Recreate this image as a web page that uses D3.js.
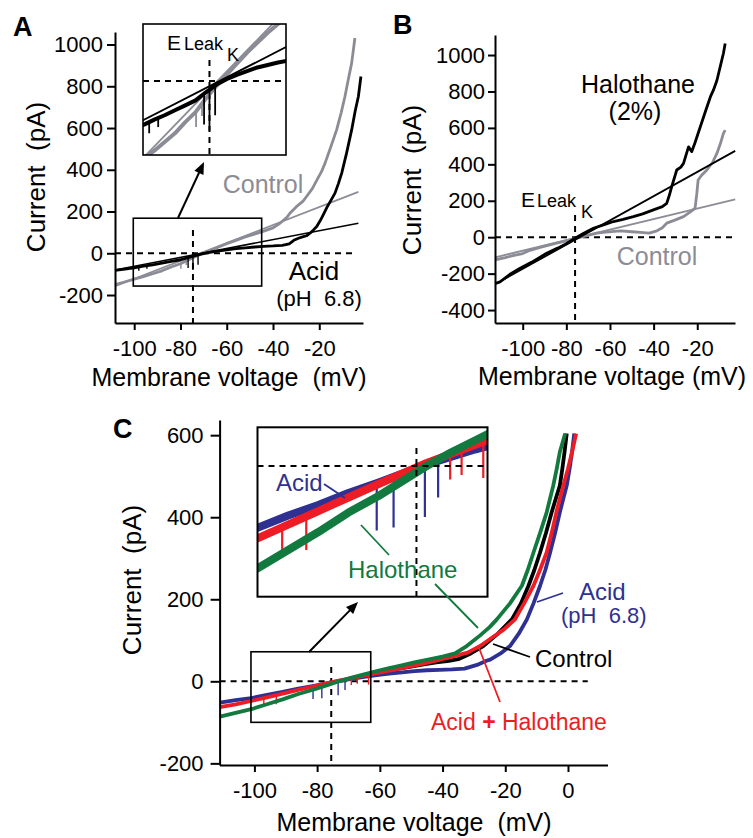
<!DOCTYPE html>
<html><head><meta charset="utf-8">
<script src="https://cdn.jsdelivr.net/npm/d3@7"></script>
<style>
body{margin:0;background:#fff}
svg{display:block}
text{font-family:'Liberation Sans',Arial,Helvetica,sans-serif}
</style>
</head><body>
<svg id="fig" width="753" height="838"></svg>
<script>
// ---------------- DATA ----------------
// Panel A (membrane voltage mV, current pA)
const aTicksX = [-100, -80, -60, -40, -20];
const aTicksY = [-200, 0, 200, 400, 600, 800, 1000];
const aControl = [[-108.3,-150],[-105,-140],[-100,-124],[-96,-112],[-92,-98],[-88,-84],[-84,-66],[-80,-50],[-76,-28],[-72,-8],[-68,10],[-64,28],[-60,46],[-56,62],[-52,78],[-48,92],[-44,106],[-40,122],[-37,144],[-34,172],[-32.7,192],[-30,222],[-27,250],[-25.5,272],[-23,310],[-21,352],[-19,392],[-17.5,432],[-15,510],[-12.5,591],[-10.5,675],[-8.9,751],[-7.5,830],[-6,911],[-4.6,1031]];
const aAcid = [[-108.3,-82],[-104,-76],[-100,-70],[-96,-62],[-92,-55],[-88,-47],[-84,-39],[-80,-31],[-76,-18],[-72,-6],[-68,3],[-64,10],[-60,16],[-56,22],[-52,26],[-48,30],[-44,33],[-40,35],[-36,38],[-33,45],[-31,62],[-29,72],[-26.9,80],[-25.5,84],[-24,96],[-22.5,112],[-21.1,128],[-19.5,158],[-18.3,184],[-16.8,218],[-15.4,245],[-13.2,288],[-11.7,335],[-10.3,384],[-8.2,480],[-6,591],[-4.5,680],[-3.1,751],[-2,847]];
// noise spikes: [voltage, trace value, spike tip]
const aAcidSpikes = [[-98,-67,-84],[-94.5,-60,-74],[-76.7,-22,-70],[-74.6,-14,-80],[-72.4,-7,-55]];
const aControlSpikes = [[-79.8,-50,-74],[-77.5,-36,-56]];
const aFitControl = [[-108.3,-158],[-3.1,294]];
const aFitAcid = [[-108.3,-80],[-3.1,144]];
const aZoomV = [-100.4, -44.9];
const aZoomI = [-157, 168];
const aEleak = -74.6;

// Panel B
const bTicksX = [-100, -80, -60, -40, -20];
const bTicksY = [-400, -200, 0, 200, 400, 600, 800, 1000];
const bHalothane = [[-112.7,-255],[-110.4,-245],[-106,-205],[-101.2,-170],[-96,-138],[-89,-88],[-84,-60],[-80,-36],[-76,-5],[-72,22],[-67.6,49],[-63,68],[-58.4,86],[-54,98],[-49.3,113],[-45,128],[-40.1,150],[-36,168],[-34,186],[-32.8,230],[-31.7,277],[-29.4,369],[-27.5,385],[-26.3,405],[-24,496],[-22.5,470],[-21,520],[-18.6,606],[-16,700],[-14,770],[-12.6,807],[-11,860],[-9.5,935],[-8,1010],[-7.2,1063]];
const bControl = [[-112.7,-124],[-108,-112],[-104,-100],[-100,-90],[-96.7,-72],[-92,-56],[-88,-44],[-84.4,-33],[-80,-20],[-75.2,-5],[-70,10],[-66,22],[-62,28],[-58,32],[-55,35],[-50,30],[-46,26],[-42,22],[-38.5,35],[-36,52],[-34,77],[-30,95],[-26.3,113],[-23,140],[-21,160],[-20.2,240],[-19.6,314],[-18,340],[-15.6,369],[-13,410],[-11,460],[-9.5,510],[-8,570],[-7.2,588]];
const bFitHalothane = [[-110.4,-243],[-2.6,474]];
const bFitControl = [[-112.7,-111],[-2.6,208]];
const bEleak = -76;

// Panel C
const cTicksX = [-100, -80, -60, -40, -20, 0];
const cTicksY = [-200, 0, 200, 400, 600];
const cAcid = [[-111,-52],[-106,-46],[-101,-41],[-96,-33],[-91,-26],[-86,-18],[-81,-11],[-77,-5],[-73,1],[-69,6],[-65,11],[-61,15],[-57,19],[-53,22],[-49,25],[-45,27],[-41,28],[-37,29],[-33,31],[-29,40],[-26,50],[-24.8,53],[-21.5,68],[-18.5,86],[-15.7,116],[-13.1,151],[-11,190],[-8.9,233],[-7.2,272],[-5.7,314],[-4.1,362],[-2.6,412],[-1.5,445],[-0.4,477],[0.5,518],[1.3,559],[2,604]];
const cAcidHalothane = [[-111,-63],[-106,-56],[-101,-48],[-96,-39],[-91,-30],[-86,-21],[-81,-12],[-77,-5],[-73,2],[-69,8],[-65,14],[-61,20],[-57,26],[-53,32],[-49,38],[-45,45],[-40.8,53],[-36,62],[-32,70],[-28,86],[-24.5,105],[-20.5,126],[-16.9,151],[-14,190],[-11,233],[-9,270],[-6.8,314],[-5.2,362],[-3.7,412],[-2.6,445],[-1.5,477],[0,518],[1.3,559],[2.6,604]];
const cHalothane = [[-111,-86],[-106,-77],[-101,-68],[-96,-56],[-91,-44],[-86,-31],[-81,-20],[-77,-10],[-73,0],[-69,9],[-65,17],[-61,25],[-57,32],[-53,39],[-49,46],[-45,52],[-40,60],[-36,68],[-32.3,86],[-28,112],[-25,132],[-22.7,151],[-18.5,190],[-14.7,233],[-12.8,272],[-11,314],[-8.9,362],[-6.8,412],[-4.7,477],[-3.6,518],[-2.6,559],[-0.9,604]];
const cControl = [[-58,26],[-54,31],[-50,36],[-46,41],[-42,46],[-38,50],[-35,54],[-31,68],[-27,86],[-22.5,115],[-17.9,151],[-15,190],[-12.6,233],[-10.7,272],[-8.9,314],[-7,362],[-5.2,412],[-3.9,445],[-2.6,477],[-1.8,518],[-1.1,559],[-0.4,604]];
// noise spikes: [voltage, trace value, spike tip]
const cAcidSpikes = [[-81.3,-11,-43],[-78.5,-7,-41],[-73.3,0,-34],[-71.1,3,-21]];
const cAcidHalothaneSpikes = [[-97,-41,-58],[-93,-33,-56],[-69.1,8,-9],[-67.2,10,-6],[-63.6,16,-8]];
const cZoomV = [-101.1, -62.9];
const cZoomI = [-100, 72];
const cEleak = -75.5;

// ---------------- STYLE ----------------
const GRAY = '#8c8c96', BLUE = '#2e3192', RED = '#ee1c25', GREEN = '#127a3e';
const svg = d3.select('#fig');

// ---------------- SCALES ----------------
const xA = d3.scaleLinear().domain([-108.3, -1.1]).range([115, 363]);
const yA = d3.scaleLinear().domain([-334, 1060]).range([323, 32]);
const xAi = d3.scaleLinear().domain(aZoomV).range([143, 286]);
const yAi = d3.scaleLinear().domain([-119, 92]).range([155, 24]);

const xB = d3.scaleLinear().domain([-112.7, -2.7]).range([495, 735]);
const yB = d3.scaleLinear().domain([-471, 1110]).range([323, 35]);

const xC = d3.scaleLinear().domain([-111.1, 12.6]).range([219.6, 607.5]);
const yC = d3.scaleLinear().domain([-204, 637]).range([765, 420]);
const xCi = d3.scaleLinear().domain(cZoomV).range([257.5, 487.5]);
const yCi = d3.scaleLinear().domain([-87.1, 25.8]).range([596.7, 427.3]);

const fmt = d => String(d);

function drawAxes(x, y, xt, yt, o) {
  const gx = svg.append('g').attr('transform', `translate(0,${y.range()[0]})`)
    .call(d3.axisBottom(x).tickValues(xt).tickFormat(fmt).tickSize(7).tickSizeOuter(0).tickPadding(o.xpad));
  const gy = svg.append('g').attr('transform', `translate(${x.range()[0]},0)`)
    .call(d3.axisLeft(y).tickValues(yt).tickFormat(fmt).tickSize(o.ytick).tickSizeOuter(0).tickPadding(o.ypad));
  [gx, gy].forEach(g => {
    g.select('.domain').attr('stroke', '#000').attr('stroke-width', 2);
    g.selectAll('.tick line').attr('stroke', '#000').attr('stroke-width', 2);
    g.selectAll('.tick text').attr('font-size', 22).attr('fill', '#000')
      .style('font-family', "'Liberation Sans',Arial,sans-serif");
  });
}

function line(x, y) { return d3.line().x(d => x(d[0])).y(d => y(d[1])); }
function path(g, data, x, y, color, w) {
  return g.append('path').datum(data).attr('d', line(x, y)).attr('fill', 'none')
    .attr('stroke', color).attr('stroke-width', w).attr('stroke-linejoin', 'round');
}
function spikes(g, data, x, y, color, w) {
  g.selectAll(null).data(data).enter().append('line')
    .attr('x1', d => x(d[0])).attr('x2', d => x(d[0]))
    .attr('y1', d => y(d[1])).attr('y2', d => y(d[2]))
    .attr('stroke', color).attr('stroke-width', w);
}
function dashed(g, x1, y1, x2, y2) {
  g.append('line').attr('x1', x1).attr('y1', y1).attr('x2', x2).attr('y2', y2)
    .attr('stroke', '#000').attr('stroke-width', 2).attr('stroke-dasharray', '6,5');
}
function text(x, y, s, size, color, anchor, weight) {
  return svg.append('text').attr('x', x).attr('y', y).text(s).attr('font-size', size)
    .attr('fill', color || '#000').attr('text-anchor', anchor || 'start')
    .attr('font-weight', weight || 'normal');
}
function arrow(x1, y1, x2, y2) {
  const ang = Math.atan2(y2 - y1, x2 - x1), L = 12, W = 5;
  svg.append('line').attr('x1', x1).attr('y1', y1)
    .attr('x2', x2 - Math.cos(ang) * L * 0.8).attr('y2', y2 - Math.sin(ang) * L * 0.8)
    .attr('stroke', '#000').attr('stroke-width', 2);
  const bx = x2 - Math.cos(ang) * L, by = y2 - Math.sin(ang) * L;
  const px = -Math.sin(ang) * W, py = Math.cos(ang) * W;
  svg.append('path').attr('d', `M${x2},${y2}L${bx + px},${by + py}L${bx - px},${by - py}Z`).attr('fill', '#000');
}
function leader(x1, y1, x2, y2, color) {
  svg.append('line').attr('x1', x1).attr('y1', y1).attr('x2', x2).attr('y2', y2)
    .attr('stroke', color).attr('stroke-width', 1.8);
}
function ytitle(x, y, s) {
  svg.append('text').attr('transform', `translate(${x},${y}) rotate(-90)`).attr('text-anchor', 'middle')
    .attr('font-size', 26).text(s);
}
function xtitle(x, y, s) {
  svg.append('text').attr('x', x).attr('y', y).attr('text-anchor', 'middle')
    .attr('font-size', 25).text(s);
}
const defs = svg.append('defs');
function clip(id, x0, y0, x1, y1) {
  defs.append('clipPath').attr('id', id).append('rect').attr('x', x0).attr('y', y0).attr('width', x1 - x0).attr('height', y1 - y0);
}

// ================= PANEL A =================
{
  const g = svg.append('g');
  dashed(g, xA(-108.3), yA(0), xA(-4.5), yA(0));
  dashed(g, xA(aEleak), yA(112), xA(aEleak), yA.range()[0]);
  path(g, aControl, xA, yA, GRAY, 2.8);
  spikes(g, aControlSpikes, xA, yA, GRAY, 1.4);
  path(g, aFitControl, xA, yA, GRAY, 1.8);
  path(g, aAcid, xA, yA, '#000', 2.8);
  spikes(g, aAcidSpikes, xA, yA, '#000', 1.4);
  path(g, aFitAcid, xA, yA, '#000', 1.6);
  g.append('rect').attr('x', xA(aZoomV[0])).attr('y', yA(aZoomI[1]))
    .attr('width', xA(aZoomV[1]) - xA(aZoomV[0])).attr('height', yA(aZoomI[0]) - yA(aZoomI[1]))
    .attr('fill', 'none').attr('stroke', '#000').attr('stroke-width', 1.6);
  drawAxes(xA, yA, aTicksX, aTicksY, {xpad: 10, ytick: 8, ypad: 4});

  // inset
  const ig = svg.append('g');
  ig.append('rect').attr('x', 143).attr('y', 24).attr('width', 143).attr('height', 131)
    .attr('fill', '#fff').attr('stroke', 'none');
  clip('clipA', 143, 24, 286, 155);
  const ic = ig.append('g').attr('clip-path', 'url(#clipA)');
  dashed(ic, 143, yAi(0), 286, yAi(0));
  dashed(ic, xAi(aEleak), yAi(34), xAi(aEleak), 155);
  path(ic, aControl, xAi, yAi, GRAY, 4);
  spikes(ic, aControlSpikes, xAi, yAi, GRAY, 1.8);
  path(ic, aFitControl, xAi, yAi, GRAY, 1.8);
  path(ic, aAcid, xAi, yAi, '#000', 4);
  spikes(ic, aAcidSpikes, xAi, yAi, '#000', 1.8);
  path(ic, aFitAcid, xAi, yAi, '#000', 1.8);
  ig.append('rect').attr('x', 143).attr('y', 24).attr('width', 143).attr('height', 131)
    .attr('fill', 'none').attr('stroke', '#000').attr('stroke-width', 1.6);
  text(167, 50, 'E', 21);
  text(184, 50, 'Leak', 18);
  text(227, 61, 'K', 18);

  arrow(178, 218, 204, 162);
  text(13, 36, 'A', 27, '#000', 'start', 'bold');
  text(263, 193, 'Control', 25, GRAY, 'middle');
  text(314, 280, 'Acid', 26, '#000', 'middle');
  text(319, 306, '(pH\u00a0\u00a06.8)', 22, '#000', 'middle');
  ytitle(45, 177, 'Current\u00a0\u00a0(pA)');
  xtitle(229, 386, 'Membrane voltage\u00a0\u00a0(mV)');
}

// ================= PANEL B =================
{
  const g = svg.append('g');
  dashed(g, xB(-112.7), yB(0), xB(-2.7), yB(0));
  dashed(g, xB(bEleak), yB(122), xB(bEleak), yB.range()[0]);
  path(g, bControl, xB, yB, GRAY, 2.8);
  path(g, bFitControl, xB, yB, GRAY, 1.8);
  path(g, bHalothane, xB, yB, '#000', 2.8);
  path(g, bFitHalothane, xB, yB, '#000', 1.8);
  drawAxes(xB, yB, bTicksX, bTicksY, {xpad: 10, ytick: 7, ypad: 3});
  text(393, 34, 'B', 27, '#000', 'start', 'bold');
  text(638, 93, 'Halothane', 25, '#000', 'middle');
  text(635, 120, '(2%)', 25, '#000', 'middle');
  text(657, 265, 'Control', 25, GRAY, 'middle');
  text(521, 207, 'E', 21);
  text(537, 207, 'Leak', 18);
  text(581, 218, 'K', 18);
  ytitle(421, 180, 'Current\u00a0\u00a0(pA)');
  xtitle(612, 385, 'Membrane voltage (mV)');
}

// ================= PANEL C =================
{
  const g = svg.append('g');
  dashed(g, xC(-111.1), yC(0), xC(6.3), yC(0));
  dashed(g, xC(cEleak), yC(35), xC(cEleak), yC.range()[0]);
  path(g, cAcid, xC, yC, BLUE, 3.8);
  spikes(g, cAcidSpikes, xC, yC, BLUE, 1.4);
  path(g, cControl, xC, yC, '#000', 3.8);
  path(g, cAcidHalothane, xC, yC, RED, 3.8);
  spikes(g, cAcidHalothaneSpikes, xC, yC, RED, 1.4);
  path(g, cHalothane, xC, yC, GREEN, 3.8);
  g.append('rect').attr('x', xC(cZoomV[0])).attr('y', yC(cZoomI[1]))
    .attr('width', xC(cZoomV[1]) - xC(cZoomV[0])).attr('height', yC(cZoomI[0]) - yC(cZoomI[1]))
    .attr('fill', 'none').attr('stroke', '#000').attr('stroke-width', 1.6);
  drawAxes(xC, yC, cTicksX, cTicksY, {xpad: 10, ytick: 9, ypad: 7});

  const ig = svg.append('g');
  ig.append('rect').attr('x', 257.5).attr('y', 427.3).attr('width', 230).attr('height', 169.4)
    .attr('fill', '#fff');
  clip('clipC', 257.5, 427.3, 487.5, 596.7);
  const ic = ig.append('g').attr('clip-path', 'url(#clipC)');
  path(ic, cAcid, xCi, yCi, BLUE, 8);
  spikes(ic, cAcidSpikes, xCi, yCi, BLUE, 2.2);
  path(ic, cAcidHalothane, xCi, yCi, RED, 8);
  spikes(ic, cAcidHalothaneSpikes, xCi, yCi, RED, 2.2);
  path(ic, cHalothane, xCi, yCi, GREEN, 8);
  dashed(ic, 257.5, yCi(0), 487.5, yCi(0));
  dashed(ic, xCi(-74.7), yCi(12), xCi(-74.7), 596.7);
  ig.append('rect').attr('x', 257.5).attr('y', 427.3).attr('width', 230).attr('height', 169.4)
    .attr('fill', 'none').attr('stroke', '#000').attr('stroke-width', 2);

  arrow(309, 652, 358, 602);
  text(113, 438, 'C', 27, '#000', 'start', 'bold');
  text(276, 491, 'Acid', 24, BLUE);
  leader(324, 484, 345, 498, BLUE);
  text(348, 578, 'Halothane', 24, GREEN);
  leader(361, 525, 389, 555, GREEN);
  leader(435, 584, 478, 628, GREEN);
  text(579, 600, 'Acid', 24, BLUE);
  text(561, 623, '(pH\u00a0\u00a06.8)', 22, BLUE);
  leader(563, 593, 537, 602, BLUE);
  text(535, 667, 'Control', 24, '#000');
  leader(530, 657, 493, 644, '#000');
  const t = text(431, 730, '', 23, RED);
  t.append('tspan').text('Acid ');
  t.append('tspan').attr('font-weight', 'bold').text('+');
  t.append('tspan').text(' Halothane');
  leader(500, 702, 479, 648, RED);
  ytitle(141, 580, 'Current\u00a0\u00a0(pA)');
  xtitle(414, 831, 'Membrane voltage\u00a0\u00a0(mV)');
}
</script>
</body></html>
